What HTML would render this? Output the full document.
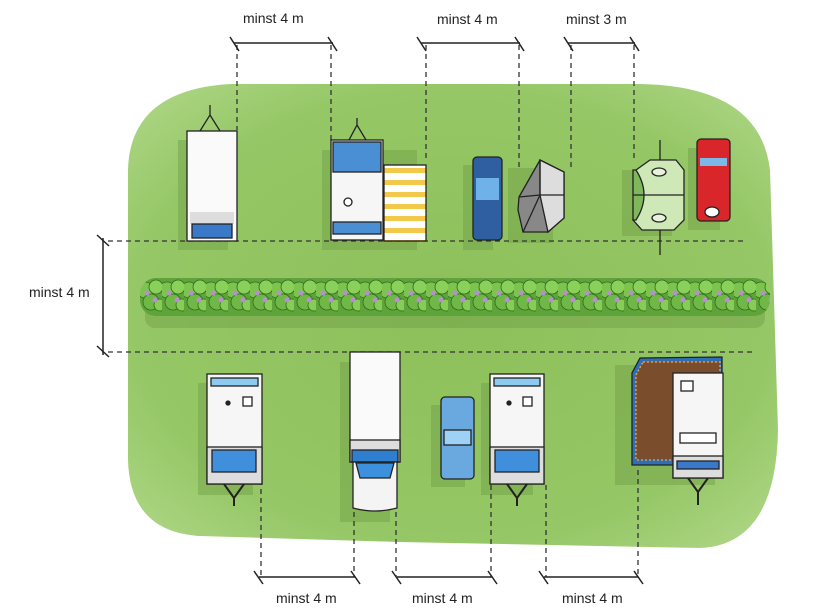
<!DOCTYPE html>
<html><head><meta charset="utf-8"><style>
html,body{margin:0;padding:0;background:#fff;}
svg{display:block;}
text{font-family:"Liberation Sans",sans-serif;font-size:14px;fill:#222;}
</style></head><body>
<svg width="840" height="616" viewBox="0 0 840 616" xmlns="http://www.w3.org/2000/svg">
<defs>
<radialGradient id="g" cx="0.5" cy="0.5" r="0.7">
<stop offset="0" stop-color="#8dbf5a"/><stop offset="0.7" stop-color="#95c766"/><stop offset="1" stop-color="#b2d88a"/>
</radialGradient>
<pattern id="stripe" width="8" height="12" patternUnits="userSpaceOnUse">
<rect width="8" height="12" fill="#fff"/><rect width="8" height="5" fill="#f2c94a"/>
</pattern>
<pattern id="hedge" x="140" y="278" width="22" height="40" patternUnits="userSpaceOnUse">
<rect width="22" height="40" fill="#5ea43a"/>
<circle cx="5" cy="12" r="8" fill="#7cc44e" stroke="#2f6a1e" stroke-width="0.8"/>
<circle cx="16" cy="9" r="7" fill="#8ad05a" stroke="#2f6a1e" stroke-width="0.8"/>
<circle cx="11" cy="24" r="8" fill="#6fb845" stroke="#2f6a1e" stroke-width="0.8"/>
<circle cx="20" cy="27" r="6" fill="#86cc55" stroke="#2f6a1e" stroke-width="0.8"/>
<circle cx="7" cy="15" r="2.5" fill="#b68fd0"/>
<circle cx="15" cy="22" r="2.5" fill="#b68fd0"/>
</pattern>
</defs>
<path d="M128 170 Q130 90 230 84 L640 84 Q760 86 770 170 L778 430 Q776 545 700 548 L400 542 L200 536 Q130 532 128 460 Z" fill="url(#g)"/>
<!-- shadows -->
<g fill="#6f9e45" opacity="0.45">
<rect x="178" y="140" width="50" height="110"/><rect x="322" y="150" width="95" height="100"/>
<rect x="463" y="165" width="30" height="85"/><rect x="508" y="168" width="45" height="75"/>
<rect x="622" y="170" width="50" height="66"/><rect x="688" y="148" width="32" height="82"/>
<rect x="198" y="383" width="55" height="112"/><rect x="340" y="362" width="50" height="160"/>
<rect x="431" y="405" width="34" height="82"/><rect x="481" y="383" width="52" height="112"/>
<rect x="615" y="365" width="100" height="120"/>
<rect x="145" y="300" width="620" height="28" rx="10"/>
</g>
<!-- hedge -->
<rect x="140" y="278" width="630" height="38" rx="16" fill="url(#hedge)"/>
<!-- dashed lines -->
<g stroke="#333" stroke-width="1.3" stroke-dasharray="5,4" fill="none">
<line x1="108" y1="241" x2="745" y2="241"/><line x1="108" y1="352" x2="755" y2="352"/>
<line x1="237" y1="45" x2="237" y2="130"/><line x1="331" y1="45" x2="331" y2="145"/>
<line x1="426" y1="45" x2="426" y2="160"/><line x1="519" y1="45" x2="519" y2="170"/>
<line x1="571" y1="45" x2="571" y2="168"/><line x1="634" y1="45" x2="634" y2="160"/>
<line x1="261" y1="480" x2="261" y2="577"/><line x1="354" y1="512" x2="354" y2="577"/>
<line x1="396" y1="512" x2="396" y2="577"/><line x1="491" y1="485" x2="491" y2="577"/>
<line x1="546" y1="485" x2="546" y2="577"/><line x1="638" y1="470" x2="638" y2="577"/>
</g>
<!-- dimension lines -->
<g stroke="#222" stroke-width="1.5">
<line x1="234" y1="43" x2="333" y2="43"/><line x1="230" y1="37" x2="239" y2="51"/><line x1="328" y1="37" x2="337" y2="51"/>
<line x1="421" y1="43" x2="520" y2="43"/><line x1="417" y1="37" x2="426" y2="51"/><line x1="515" y1="37" x2="524" y2="51"/>
<line x1="568" y1="43" x2="635" y2="43"/><line x1="564" y1="37" x2="573" y2="51"/><line x1="630" y1="37" x2="639" y2="51"/>
<line x1="103" y1="238" x2="103" y2="355"/><line x1="97" y1="235" x2="109" y2="246"/><line x1="97" y1="346" x2="109" y2="357"/>
<line x1="259" y1="577" x2="355" y2="577"/><line x1="254" y1="571" x2="263" y2="584"/><line x1="351" y1="571" x2="360" y2="584"/>
<line x1="397" y1="577" x2="492" y2="577"/><line x1="392" y1="571" x2="401" y2="584"/><line x1="488" y1="571" x2="497" y2="584"/>
<line x1="544" y1="577" x2="638" y2="577"/><line x1="539" y1="571" x2="548" y2="584"/><line x1="634" y1="571" x2="643" y2="584"/>
</g>
<text x="243" y="23">minst 4 m</text>
<text x="437" y="24">minst 4 m</text>
<text x="566" y="24">minst 3 m</text>
<text x="29" y="297">minst 4 m</text>
<text x="276" y="603">minst 4 m</text>
<text x="412" y="603">minst 4 m</text>
<text x="562" y="603">minst 4 m</text>
<!-- top row vehicles -->
<g stroke="#222" stroke-width="1.3">
<path d="M200 131 L210 115 L210 105 M220 131 L210 115" fill="none"/>
<rect x="187" y="131" width="50" height="110" fill="#fafafa"/>
<rect x="190" y="212" width="44" height="12" fill="#ddd" stroke="none"/>
<rect x="192" y="224" width="40" height="14" fill="#3a79c8"/>
<path d="M349 140 L357 125 L357 118 M366 140 L357 125" fill="none"/>
<rect x="331" y="140" width="52" height="100" fill="#f6f6f6"/>
<rect x="333" y="142" width="48" height="30" fill="#4a8fd4"/>
<circle cx="348" cy="202" r="4" fill="#fff"/>
<rect x="333" y="222" width="48" height="12" fill="#4a8fd4"/>
<rect x="384" y="165" width="42" height="76" fill="url(#stripe)"/>
<rect x="473" y="157" width="29" height="83" rx="4" fill="#2f5fa0"/>
<rect x="476" y="178" width="23" height="22" fill="#6fb2ea" stroke="none"/>
<path d="M519 197 L540 160 L564 172 L564 218 L548 232 L523 232 L518 210 Z" fill="#888"/>
<path d="M540 160 L564 172 L564 218 L548 232 L540 195 Z" fill="#ddd"/>
<path d="M540 160 L540 195 M519 197 L540 195 L564 195 M540 195 L523 232" fill="none"/>
<line x1="660" y1="140" x2="660" y2="255"/>
<path d="M636 170 L650 160 L676 160 L684 170 L684 220 L674 230 L642 230 L633 220 Z" fill="#cfe8b8"/>
<path d="M636 170 Q652 195 636 220 L633 220 L633 170 Z" fill="#7fb85c"/>
<line x1="633" y1="195" x2="684" y2="195"/>
<ellipse cx="659" cy="172" rx="7" ry="4" fill="#e6f3da"/><ellipse cx="659" cy="218" rx="7" ry="4" fill="#e6f3da"/>
<rect x="697" y="139" width="33" height="82" rx="4" fill="#d9262a"/>
<rect x="700" y="158" width="27" height="8" fill="#7db9e8" stroke="none"/>
<ellipse cx="712" cy="212" rx="7" ry="5" fill="#fff"/>
</g>
<!-- bottom row -->
<g stroke="#222" stroke-width="1.3">
<rect x="207" y="374" width="55" height="110" fill="#f6f6f6"/>
<rect x="211" y="378" width="47" height="8" fill="#8ccaf0"/>
<circle cx="228" cy="403" r="2" fill="#222"/><rect x="243" y="397" width="9" height="9" fill="#fff"/>
<rect x="207" y="447" width="55" height="37" fill="#ddd"/><rect x="212" y="450" width="44" height="22" fill="#3f8fdc"/>
<path d="M224 484 L234 498 L244 484 M234 498 L234 506" fill="none" stroke-width="2"/>
<rect x="350" y="352" width="50" height="110" fill="#fafafa"/>
<rect x="350" y="440" width="50" height="22" fill="#ddd"/><rect x="352" y="450" width="46" height="12" fill="#2f7fd0"/>
<path d="M353 462 L397 462 L397 508 Q375 514 353 508 Z" fill="#f4f4f4"/>
<path d="M356 463 L394 463 L390 478 L360 478 Z" fill="#3d90dc"/>
<rect x="441" y="397" width="33" height="82" rx="4" fill="#6aa8e0"/>
<rect x="444" y="430" width="27" height="15" fill="#9fd0f5"/>
<rect x="490" y="374" width="54" height="110" fill="#f6f6f6"/>
<rect x="494" y="378" width="46" height="8" fill="#8ccaf0"/>
<circle cx="509" cy="403" r="2" fill="#222"/><rect x="523" y="397" width="9" height="9" fill="#fff"/>
<rect x="490" y="447" width="54" height="37" fill="#ddd"/><rect x="495" y="450" width="44" height="22" fill="#3f8fdc"/>
<path d="M507 484 L517 498 L527 484 M517 498 L517 506" fill="none" stroke-width="2"/>
<path d="M640 358 L722 357 L722 465 L632 465 L632 373 Z" fill="#2f6fb8"/>
<path d="M643 362 L720 362 L720 460 L636 460 L636 375 Z" fill="#7a4e2c" stroke="#e6a85a" stroke-dasharray="2,2"/>
<rect x="673" y="373" width="50" height="105" fill="#f6f6f6"/>
<rect x="681" y="381" width="12" height="10" fill="#fff"/><rect x="680" y="433" width="36" height="10" fill="#fff"/>
<rect x="673" y="456" width="50" height="22" fill="#ddd"/><rect x="677" y="461" width="42" height="8" fill="#3a79c8"/>
<path d="M688 478 L698 492 L708 478 M698 492 L698 505" fill="none" stroke-width="2"/>
</g>
</svg>
</body></html>
